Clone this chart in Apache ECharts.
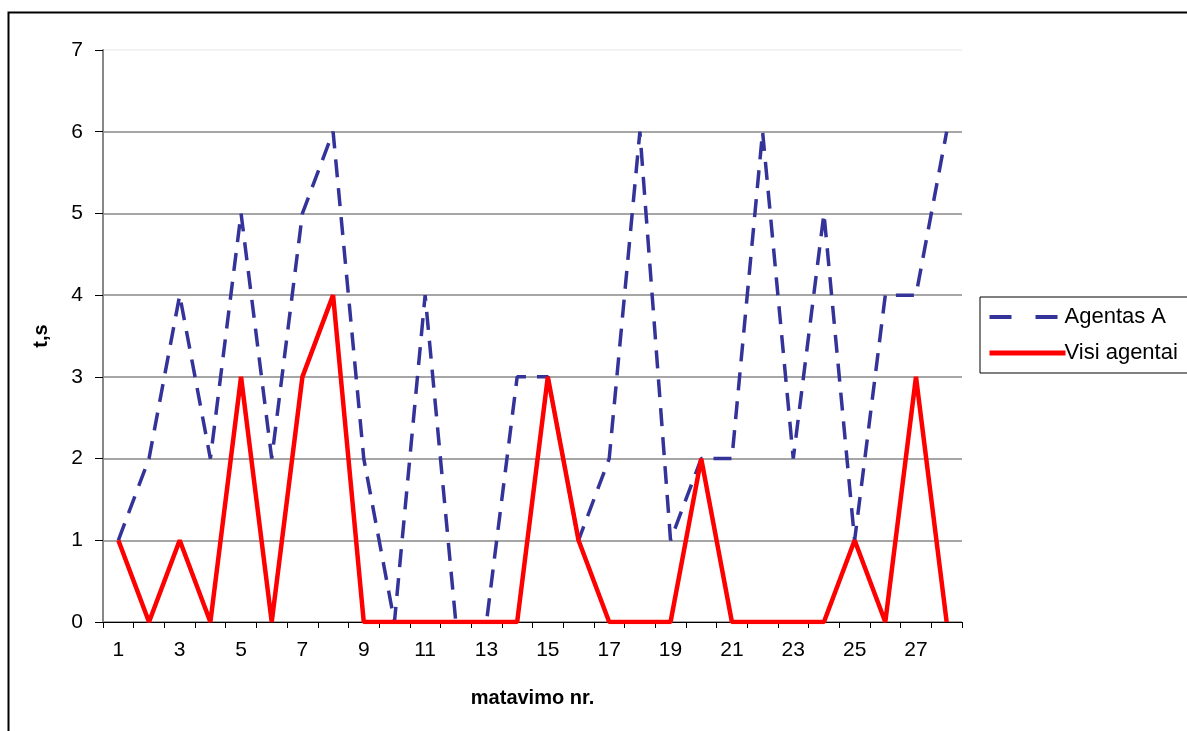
<!DOCTYPE html>
<html><head><meta charset="utf-8">
<script src="https://cdn.jsdelivr.net/npm/echarts@6/dist/echarts.min.js"></script>
<style>html,body{margin:0;padding:0;background:#fff}#c{width:1187px;height:731px}</style>
</head><body><div id="c"></div>
<script>
const categories = ['1','2','3','4','5','6','7','8','9','10','11','12','13','14','15','16','17','18','19','20','21','22','23','24','25','26','27','28'];
const agentasA = [1,2,4,2,5,2,5,6,2,0,4,0,0,3,3,1,2,6,1,2,2,6,2,5,1,4,4,6];
const visiAgentai = [1,0,1,0,3,0,3,4,0,0,0,0,0,0,3,1,0,0,0,2,0,0,0,0,1,0,3,0];
const seriesNames = ['Agentas A','Visi agentai'];

const chart = echarts.init(document.getElementById('c'));
chart.setOption({
  animation: false,
  backgroundColor: '#fff',
  textStyle: { fontFamily: 'Liberation Sans, Arial, sans-serif' },
  graphic: [{ type: 'rect', shape: { x: 8.5, y: 12.5, width: 1200, height: 760 }, style: { fill: 'none', stroke: '#000', lineWidth: 2 }, z: -1 }],
  grid: { left: 103, right: 225, top: 50, bottom: 109, containLabel: false },
  legend: {
    orient: 'vertical', left: 980, top: 297, 
    data: [
      { name: seriesNames[0], lineStyle: { width: 4, type: [22, 24], color: '#333399' } },
      { name: seriesNames[1], lineStyle: { width: 5, color: '#ff0000' } }
    ],
    backgroundColor: '#fff', borderColor: '#000', borderWidth: 1,
    padding: [9, 40, 9, 7], itemGap: 14, itemWidth: 76, itemHeight: 22,
    itemStyle: { opacity: 0 },
    textStyle: { fontSize: 22, color: '#000', fontFamily: 'Liberation Sans, Arial, sans-serif', padding: [0,0,0,-6] }
  },
  xAxis: {
    type: 'category', data: categories, boundaryGap: true,
    name: 'matavimo nr.', nameLocation: 'middle', nameGap: 66,
    nameTextStyle: { fontSize: 20, fontWeight: 'bold', color: '#000' },
    axisLine: { lineStyle: { color: '#000', width: 1 } },
    axisTick: { show: true, interval: 0, length: 6, lineStyle: { color: '#000' } },
    axisLabel: { interval: 1, fontSize: 21, color: '#000', margin: 18 },
    splitLine: { show: false }
  },
  yAxis: {
    type: 'value', min: 0, max: 7, interval: 1,
    name: 't,s', nameLocation: 'middle', nameGap: 52, nameRotate: 90,
    nameTextStyle: { fontSize: 20, fontWeight: 'bold', color: '#000' },
    axisLine: { show: true, lineStyle: { color: '#888', width: 2 } },
    axisTick: { show: true, length: 8, lineStyle: { color: '#000' } },
    axisLabel: { fontSize: 21, color: '#000', margin: 20 },
    splitLine: { show: true, lineStyle: { color: ['#888','#888','#888','#888','#888','#888','#888','#eee'], width: 1.5 } }
  },
  series: [
    { name: seriesNames[0], type: 'line', data: agentasA, symbol: 'none',
      lineStyle: { color: '#333399', width: 3.5, type: [18, 11] }, itemStyle: { color: '#333399' } },
    { name: seriesNames[1], type: 'line', data: visiAgentai, symbol: 'none', z: 3,
      lineStyle: { color: '#ff0000', width: 4.5 }, itemStyle: { color: '#ff0000' } }
  ]
});
</script></body></html>
